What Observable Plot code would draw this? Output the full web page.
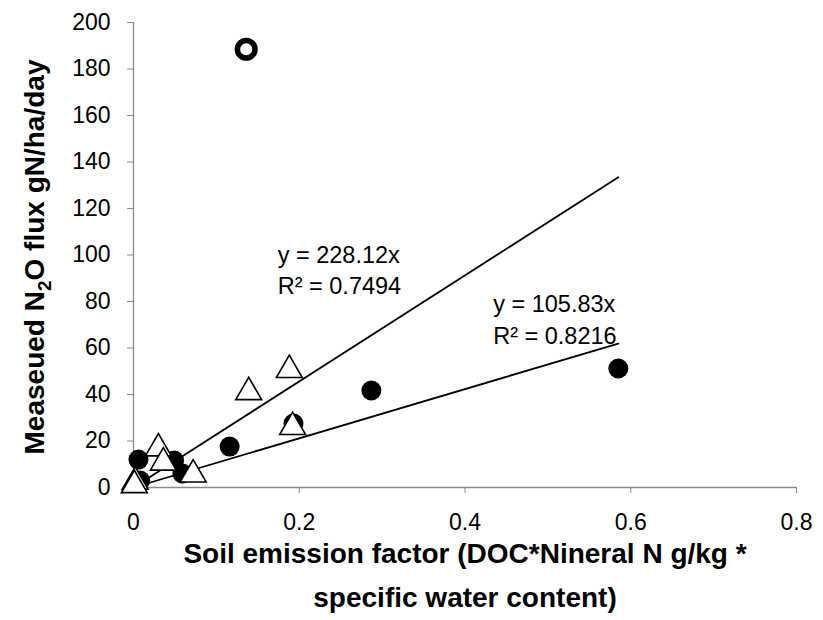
<!DOCTYPE html>
<html><head><meta charset="utf-8">
<script src="https://cdn.jsdelivr.net/npm/d3@7"></script>
<script src="https://cdn.jsdelivr.net/npm/@observablehq/plot@0.6"></script>
<style>body{margin:0;background:#fff}</style>
</head><body><div id="chart"></div>
<script>
// Series 1: filled circles (trend y = 105.83x)
const filledX = [0.006, 0.008, 0.049, 0.059, 0.116, 0.193, 0.287, 0.585];
const filledY = [12, 3, 11.6, 6, 17.6, 27.5, 41.7, 51.2];
// Series 2: open triangles (trend y = 228.12x)
const triX = [0.002, 0.001, 0.030, 0.036, 0.072, 0.139, 0.188, 0.192];
const triY = [2.5, 1, 16.8, 10.7, 5.6, 41, 50.5, 26];
// Outlier: open circle
const ringX = [0.136];
const ringY = [188.5];
// Trendlines
const slopes = [105.83, 228.12];
const trendEndX = 0.585;
const eqLabels = [["y = 105.83x", "R² = 0.8216"], ["y = 228.12x", "R² = 0.7494"]];
const xTicks = [0, 0.2, 0.4, 0.6, 0.8];
const yTicks = [0, 20, 40, 60, 80, 100, 120, 140, 160, 180, 200];
const xTitle = ["Soil emission factor (DOC*Nineral N g/kg *", "specific water content)"];
const yTitle = "Measeued N2O flux gN/ha/day";

const filled = filledX.map((x, i) => ({x, y: filledY[i]}));
const tris = triX.map((x, i) => ({x, y: triY[i]}));
const rings = ringX.map((x, i) => ({x, y: ringY[i]}));
const trend = slopes.flatMap((s, k) => [{k, x: 0, y: 0}, {k, x: trendEndX, y: s * trendEndX}]);

const font = "'Liberation Sans', Arial, sans-serif";
const axisGrey = "#898989";

const plot = Plot.plot({
  width: 823, height: 620,
  marginLeft: 133, marginRight: 27, marginTop: 22, marginBottom: 133,
  style: {fontFamily: font, fontSize: "23px", background: "#fff", color: "#000"},
  x: {domain: [0, 0.8]},
  y: {domain: [0, 200]},
  marks: [
    Plot.axisX({ticks: xTicks, tickSize: 6, tickPadding: 20, stroke: axisGrey, fontSize: 23, label: null,
      tickFormat: d => d === 0 ? "0" : String(d)}),
    Plot.axisY({ticks: yTicks, tickSize: 6, tickPadding: 17, stroke: axisGrey, fontSize: 23, label: null}),
    Plot.ruleY([0], {stroke: axisGrey, strokeWidth: 1.3}),
    Plot.ruleX([0], {stroke: axisGrey, strokeWidth: 1.3}),
    Plot.dot(filled, {x: "x", y: "y", r: 10, fill: "#000", stroke: "none"}),
    Plot.dot(rings, {x: "x", y: "y", r: 8.8, fill: "#fff", stroke: "#000", strokeWidth: 5.5}),
    Plot.line(trend, {x: "x", y: "y", z: "k", stroke: "#000", strokeWidth: 1.8}),
    Plot.dot(tris, {x: "x", y: "y", symbol: "triangle", r: 9.6, fill: "#fff", stroke: "#000", strokeWidth: 1.6}),
    Plot.text([eqLabels[1].join("\n")], {x: 0.174, y: 94.2, text: d => d, textAnchor: "start", lineAnchor: "middle",
      fontSize: 23.5, lineHeight: 1.34}),
    Plot.text([eqLabels[0].join("\n")], {x: 0.434, y: 72.9, text: d => d, textAnchor: "start", lineAnchor: "middle",
      fontSize: 23.5, lineHeight: 1.34}),
    Plot.text([xTitle[0]], {frameAnchor: "bottom", text: d => d, dy: 67, lineAnchor: "middle", fontSize: 28, fontWeight: "bold"}),
    Plot.text([xTitle[1]], {frameAnchor: "bottom", text: d => d, dy: 111, lineAnchor: "middle", fontSize: 28, fontWeight: "bold"}),
    Plot.text([yTitle], {frameAnchor: "left", text: d => d, rotate: -90, dx: -98, dy: 2, textAnchor: "middle",
      lineAnchor: "middle", fontSize: 28, fontWeight: "bold"})
  ]
});
document.getElementById("chart").appendChild(plot);

// subscript the 2 in N2O
d3.select(plot).selectAll("text").each(function() {
  const t = d3.select(this);
  if (t.text() === yTitle) {
    t.text(null);
    t.append("tspan").text("Measeued N");
    t.append("tspan").attr("font-size", 19).attr("dy", 7).text("2");
    t.append("tspan").attr("dy", -7).text("O flux gN/ha/day");
  }
});
</script>
</body></html>
